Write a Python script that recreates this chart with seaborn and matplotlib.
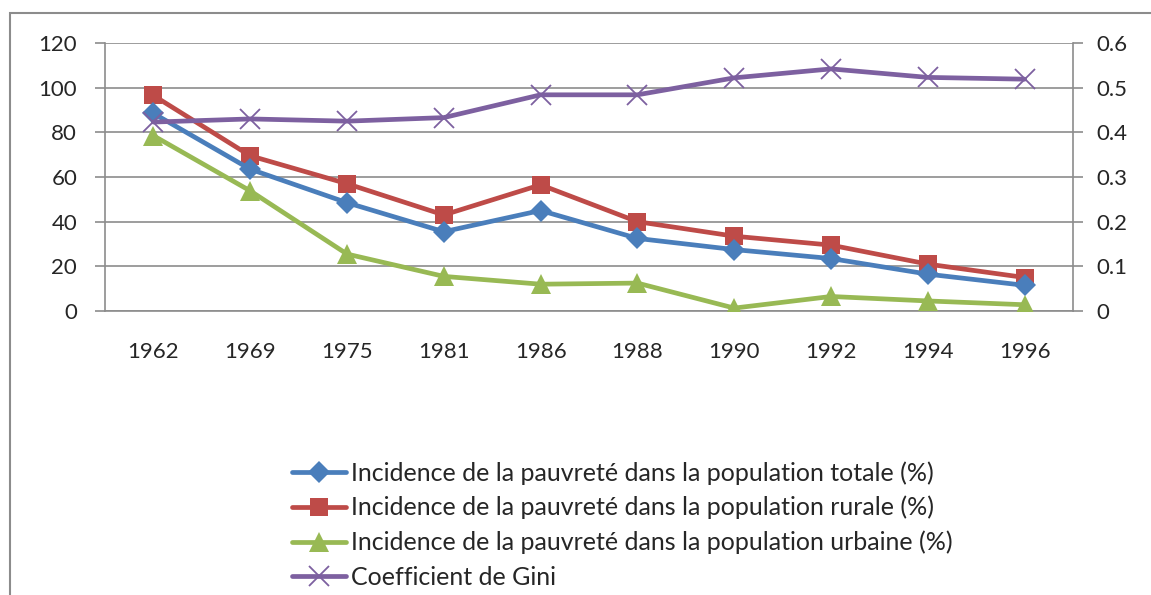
import matplotlib
matplotlib.use("Agg")
import matplotlib.pyplot as plt
import seaborn as sns
import numpy as np
import pandas as pd
from matplotlib.patches import Rectangle
from matplotlib.lines import Line2D

years = ["1962", "1969", "1975", "1981", "1986", "1988", "1990", "1992", "1994", "1996"]
total = [88.5, 63.5, 48.5, 35.5, 45.0, 32.5, 27.5, 23.5, 16.5, 11.5]
rurale = [96.5, 69.5, 57.0, 43.0, 56.5, 40.0, 33.5, 29.5, 21.0, 15.0]
urbaine = [78.5, 53.8, 25.5, 15.5, 12.0, 12.5, 1.3, 6.5, 4.5, 2.8]
gini = [0.423, 0.430, 0.425, 0.433, 0.484, 0.484, 0.522, 0.542, 0.523, 0.519]

labels = [
    "Incidence de la pauvreté dans la population totale (%)",
    "Incidence de la pauvreté dans la population rurale (%)",
    "Incidence de la pauvreté dans la population urbaine (%)",
    "Coefficient de Gini",
]
colors = ["#4A7EBB", "#BE4B48", "#98B954", "#7D60A0"]
markers = ["D", "s", "^", "x"]
msizes = [11, 13, 14, 14]

sns.set_theme(style="white")
plt.rcParams["font.family"] = ["Lato", "DejaVu Sans"]
FS = 16
LFS = 18
plt.rcParams["font.size"] = FS

fig = plt.figure(figsize=(11.51, 5.95), dpi=100)
ax = fig.add_axes([105/1151, 1 - 311/595, (1073-105)/1151, (311-43)/595])
ax2 = ax.twinx()

pos = np.arange(len(years))
df = pd.DataFrame({"pos": pos, "total": total, "rurale": rurale, "urbaine": urbaine, "gini": gini})

for i, col in enumerate(["total", "rurale", "urbaine"]):
    sns.lineplot(data=df, x="pos", y=col, ax=ax, color=colors[i], marker=markers[i],
                 markersize=msizes[i], linewidth=3.4, markeredgewidth=0,
                 markeredgecolor=colors[i], zorder=3 + (2 - i))
sns.lineplot(data=df, x="pos", y="gini", ax=ax2, color=colors[3], marker="x",
             markersize=msizes[3], linewidth=3.4, markeredgewidth=1.3,
             markeredgecolor=colors[3], zorder=3)

grey = "#8C8C8C"
ax.set_xlim(-0.5, len(years) - 0.5)
ax.set_ylim(0, 120)
ax2.set_ylim(0, 0.6)
ax.set_yticks([0, 20, 40, 60, 80, 100, 120])
ax2.set_yticks([0, 0.1, 0.2, 0.3, 0.4, 0.5, 0.6])
ax2.set_yticklabels(["0", "0.1", "0.2", "0.3", "0.4", "0.5", "0.6"])
ax.set_xticks(pos)
ax.set_xticklabels(years)
ax.set_xticks(np.arange(-0.5, len(years)), minor=True)
ax.tick_params(axis="x", which="major", length=0, pad=22, labelsize=FS)
ax.tick_params(axis="x", which="minor", length=7, width=1.2, color=grey, direction="out")
ax.tick_params(axis="y", length=7, width=1.2, color=grey, direction="out", pad=13, labelsize=FS)
ax2.tick_params(axis="y", length=7, width=1.2, color=grey, direction="out", pad=10, labelsize=FS)
ax.set_xlabel("")
ax.set_ylabel("")
ax2.set_ylabel("")
ax.grid(axis="y", color=grey, linewidth=1.2)
ax.set_axisbelow(True)

for a in (ax, ax2):
    a.spines["top"].set_visible(False)
    for s in a.spines.values():
        s.set_color(grey)
        s.set_linewidth(1.2)
ax.spines["right"].set_visible(False)
ax2.spines["left"].set_visible(False)
ax2.spines["bottom"].set_visible(False)

# outer chart frame
fig.patches.append(Rectangle((10/1151, -0.1), 1.2, 1 - 13/595 + 0.1, transform=fig.transFigure,
                             fill=False, edgecolor=grey, linewidth=1.5))

handles = []
for i in range(4):
    handles.append(Line2D([], [], color=colors[i], marker=markers[i], markersize=msizes[i],
                          linewidth=3.4, markeredgewidth=0 if i < 3 else 1.3,
                          markeredgecolor=colors[i]))
leg = fig.legend(handles, labels, loc="upper left", bbox_to_anchor=(292/1151, 1 - 461/595),
                 frameon=False, fontsize=LFS, handlelength=2.15, handletextpad=0.2,
                 labelspacing=0.45, borderaxespad=0, borderpad=0)

fig.savefig("out.png", dpi=100)
